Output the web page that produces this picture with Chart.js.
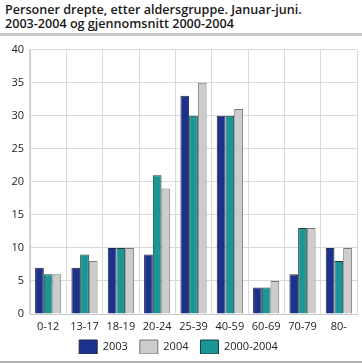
<!DOCTYPE html>
<html>
<head>
<meta charset="utf-8">
<script src="https://cdn.jsdelivr.net/npm/chart.js@4"></script>
<style>
  body { margin: 0; background: #fff; font-family: "Open Sans", sans-serif; }
  #wrap { position: relative; width: 362px; height: 363px; overflow: hidden; }
  #title { position: absolute; left: 5px; top: 3px; font-size: 12.6px; font-weight: 600; line-height: 14px; color: #1a1a1a; }
  #rule1 { position: absolute; left: 0; top: 33px; width: 362px; height: 3px; background: #c8c8c8; }
  #rule2 { position: absolute; left: 0; top: 361px; width: 362px; height: 2px; background: #b4b4b4; }
  #box { position: absolute; left: 0; top: 37px; width: 362px; height: 325px; }
</style>
</head>
<body>
<div id="wrap">
  <div id="title">Personer drepte, etter aldersgruppe. Januar-juni.<br>2003-2004 og gjennomsnitt 2000-2004</div>
  <div id="rule1"></div>
  <div id="box"><canvas id="c" width="362" height="325"></canvas></div>
  <div id="rule2"></div>
</div>
<script>
const categories = ['0-12', '13-17', '18-19', '20-24', '25-39', '40-59', '60-69', '70-79', '80-']
const v2003 = [7, 7, 10, 9, 33, 30, 4, 6, 10]
const vAvg = [6, 9, 10, 21, 30, 30, 4, 13, 8]
const v2004 = [6, 8, 10, 19, 35, 31, 5, 13, 10]
const legendOrder = ['2003', '2004', '2000-2004']

// smaller legend box in the layout, then lift it a bit so it sits under the labels
const legendFit = {
    id: 'legendFit',
    beforeInit: function (chart) {
        const orig = chart.legend.fit
        chart.legend.fit = function () {
            orig.call(this)
            this.height = 26
        }
    },
    afterLayout: function (chart) {
        chart.legend.top -= 8
        chart.legend.bottom -= 8
    }
}

const ctx = document.getElementById('c').getContext('2d')
const chart = new Chart(ctx, {
    type: 'bar',
    data: {
        labels: categories,
        datasets: [
            { label: '2003', data: v2003, backgroundColor: '#1c318c', borderColor: '#222a44', borderWidth: 1 },
            { label: '2000-2004', data: vAvg, backgroundColor: '#1a9696', borderColor: '#1f3c3c', borderWidth: 1 },
            { label: '2004', data: v2004, backgroundColor: '#cccccc', borderColor: '#777777', borderWidth: 1 }
        ]
    },
    options: {
        responsive: false,
        animation: false,
        categoryPercentage: 0.72,
        barPercentage: 1,
        layout: { padding: { top: 12, right: 5, left: 0, bottom: 0 } },
        scales: {
            x: {
                afterFit: function (scale) { scale.height = 22 },
                grid: { color: '#d9d9d9', offset: true, drawTicks: false },
                border: { color: '#c8c8c8' },
                ticks: { color: '#222', font: { family: 'Open Sans', size: 11 }, padding: 6, maxRotation: 0 }
            },
            y: {
                min: 0, max: 40,
                afterFit: function (scale) { scale.width = 30 },
                grid: { color: '#d9d9d9', drawTicks: false },
                border: { color: '#c8c8c8' },
                ticks: { stepSize: 5, color: '#222', font: { family: 'Open Sans', size: 11 }, padding: 6 }
            }
        },
        plugins: {
            legend: {
                position: 'bottom',
                labels: {
                    boxWidth: 18, boxHeight: 14, padding: 12,
                    color: '#222',
                    font: { family: 'Open Sans', size: 11 },
                    sort: function (a, b) { return legendOrder.indexOf(a.text) - legendOrder.indexOf(b.text) }
                }
            },
            tooltip: { enabled: false }
        }
    },
    plugins: [legendFit]
})
</script>
</body>
</html>
